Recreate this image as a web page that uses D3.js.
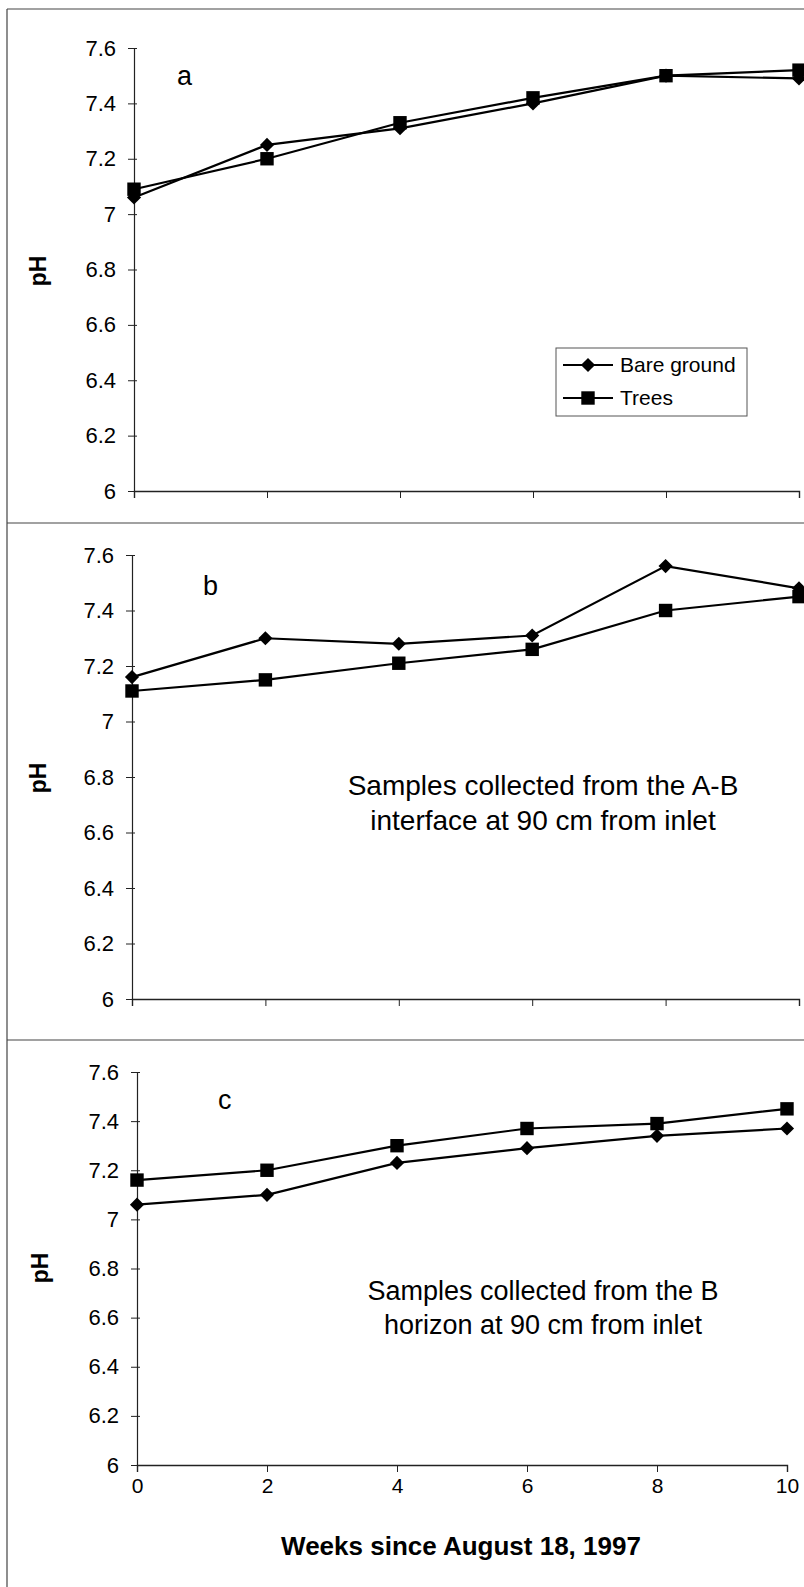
<!DOCTYPE html>
<html>
<head>
<meta charset="utf-8">
<script src="https://cdn.jsdelivr.net/npm/d3@7"></script>
<style>
  body { margin: 0; background: #fff; }
  svg { display: block; font-family: "Liberation Sans", Arial, sans-serif; }
</style>
</head>
<body>
<div id="chart"></div>
<script>
// x values (weeks) and pH readings per panel
const weeks = [0, 2, 4, 6, 8, 10];
const bareA = [7.06, 7.25, 7.31, 7.40, 7.50, 7.49];
const treesA = [7.09, 7.20, 7.33, 7.42, 7.50, 7.52];
const bareB = [7.16, 7.30, 7.28, 7.31, 7.56, 7.48];
const treesB = [7.11, 7.15, 7.21, 7.26, 7.40, 7.45];
const bareC = [7.06, 7.10, 7.23, 7.29, 7.34, 7.37];
const treesC = [7.16, 7.20, 7.30, 7.37, 7.39, 7.45];

const yTicks = [6, 6.2, 6.4, 6.6, 6.8, 7, 7.2, 7.4, 7.6];
const xTicks = [0, 2, 4, 6, 8, 10];
const seriesNames = ["Bare ground", "Trees"];
const panelLetters = ["a", "b", "c"];
const notes = [
  null,
  ["Samples collected from the A-B", "interface at 90 cm from inlet"],
  ["Samples collected from the B", "horizon at 90 cm from inlet"]
];

const W = 804, H = 1587;
const svg = d3.select("#chart").append("svg")
  .attr("width", W)
  .attr("height", H);

// panel frames (scanned figure has thin separating rules)
const frame = svg.append("g").attr("stroke", "#444").attr("stroke-width", 1.2);
frame.append("line").attr("x1", 7).attr("x2", W).attr("y1", 9).attr("y2", 9);
frame.append("line").attr("x1", 7).attr("x2", W).attr("y1", 523).attr("y2", 523);
frame.append("line").attr("x1", 7).attr("x2", W).attr("y1", 1040).attr("y2", 1040);
frame.append("line").attr("x1", 7).attr("x2", 7).attr("y1", 9).attr("y2", H);

// layout for each panel
const panels = [
  { bare: bareA, trees: treesA, x0: 134, x1: 799, yTop: 48, yBot: 491,
    letter: [177, 85], pH: [46, 271], noteX: 0, noteY: [], noteSize: 0, labelsX: false },
  { bare: bareB, trees: treesB, x0: 132, x1: 799, yTop: 555, yBot: 999,
    letter: [203, 595], pH: [46, 778], noteX: 543, noteY: [795, 830], noteSize: 28, labelsX: false },
  { bare: bareC, trees: treesC, x0: 137, x1: 787, yTop: 1072, yBot: 1465,
    letter: [218, 1109], pH: [48, 1268], noteX: 543, noteY: [1300, 1334], noteSize: 27, labelsX: true }
];

const diamond = d3.symbol().type(d3.symbolSquare).size(100);
const square = d3.symbol().type(d3.symbolSquare).size(180);

function drawMarker(g, kind, x, y) {
  if (kind === 0) {
    g.append("path").attr("d", diamond())
      .attr("transform", `translate(${x},${y}) rotate(45)`)
      .attr("fill", "#000");
  } else {
    g.append("path").attr("d", square())
      .attr("transform", `translate(${x},${y})`)
      .attr("fill", "#000");
  }
}

panels.forEach((p, i) => {
  const g = svg.append("g");
  const x = d3.scaleLinear().domain([0, 10]).range([p.x0, p.x1]);
  const y = d3.scaleLinear().domain([6, 7.6]).range([p.yBot, p.yTop]);

  // y axis
  const yAxis = g.append("g")
    .attr("transform", `translate(${p.x0},0)`)
    .call(d3.axisLeft(y).tickValues(yTicks).tickSize(6).tickPadding(12)
      .tickFormat(d => String(+d.toFixed(1))));
  yAxis.select(".domain").attr("stroke", "#222").attr("stroke-width", 1.2);
  yAxis.selectAll(".tick line").attr("stroke", "#222").attr("x2", -6).attr("x1", 3);
  yAxis.selectAll(".tick text")
    .attr("font-size", 22)
    .attr("fill", "#000")
    .attr("font-family", "'Liberation Sans', Arial, sans-serif");

  // x axis
  const xAxis = g.append("g")
    .attr("transform", `translate(0,${p.yBot})`)
    .call(d3.axisBottom(x).tickValues(xTicks).tickSize(7).tickPadding(6)
      .tickFormat(p.labelsX ? d3.format("d") : () => ""));
  xAxis.select(".domain").attr("stroke", "#222").attr("stroke-width", 1.4);
  xAxis.selectAll(".tick line").attr("stroke", "#222");
  xAxis.selectAll(".tick text")
    .attr("font-size", 21)
    .attr("fill", "#000")
    .attr("font-family", "'Liberation Sans', Arial, sans-serif");

  // series lines + markers
  const line = d3.line().x((d, j) => x(weeks[j])).y(d => y(d));
  [p.bare, p.trees].forEach((vals, k) => {
    g.append("path")
      .datum(vals)
      .attr("d", line)
      .attr("fill", "none")
      .attr("stroke", "#000")
      .attr("stroke-width", 2.2);
    vals.forEach((v, j) => drawMarker(g, k, x(weeks[j]), y(v)));
  });

  // panel letter
  g.append("text")
    .attr("x", p.letter[0]).attr("y", p.letter[1])
    .attr("font-size", 27)
    .text(panelLetters[i]);

  // y label
  g.append("text")
    .attr("transform", `translate(${p.pH[0]},${p.pH[1]}) rotate(-90)`)
    .attr("text-anchor", "middle")
    .attr("font-size", 23)
    .attr("font-weight", "bold")
    .text("pH");

  // annotation
  if (notes[i]) {
    notes[i].forEach((t, k) => {
      g.append("text")
        .attr("x", p.noteX).attr("y", p.noteY[k])
        .attr("text-anchor", "middle")
        .attr("font-size", p.noteSize)
        .text(t);
    });
  }
});

// legend (panel a)
const leg = svg.append("g");
leg.append("rect")
  .attr("x", 556).attr("y", 348).attr("width", 191).attr("height", 68)
  .attr("fill", "#fff").attr("stroke", "#555").attr("stroke-width", 1);
seriesNames.forEach((name, k) => {
  const yy = 365 + k * 33;
  leg.append("line")
    .attr("x1", 563).attr("x2", 613).attr("y1", yy).attr("y2", yy)
    .attr("stroke", "#000").attr("stroke-width", 2);
  drawMarker(leg, k, 588, yy);
  leg.append("text")
    .attr("x", 620).attr("y", yy + 7)
    .attr("font-size", 21)
    .text(name);
});

// x axis title
svg.append("text")
  .attr("x", 461).attr("y", 1555)
  .attr("text-anchor", "middle")
  .attr("font-size", 26)
  .attr("font-weight", "bold")
  .text("Weeks since August 18, 1997");
</script>
</body>
</html>
